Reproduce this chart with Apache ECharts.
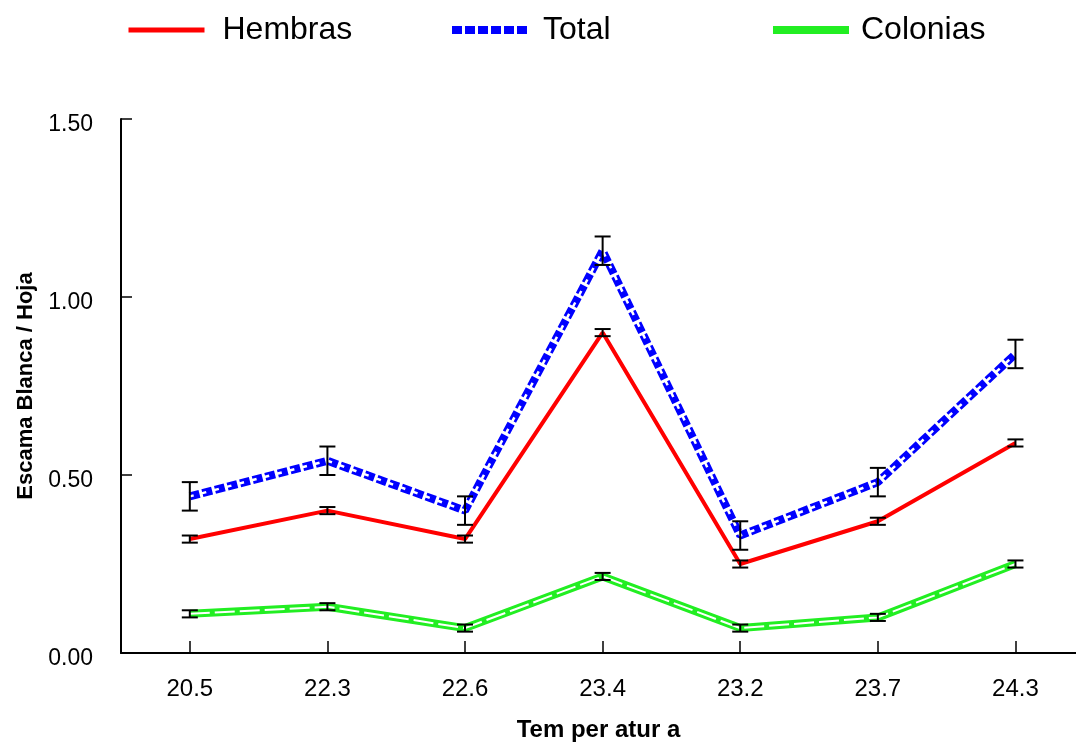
<!DOCTYPE html>
<html>
<head>
<meta charset="utf-8">
<script src="https://cdn.jsdelivr.net/npm/echarts@6/dist/echarts.min.js"></script>
<style>
html,body{margin:0;padding:0;background:#fff;}
#main{width:1076px;height:743px;}
</style>
</head>
<body>
<div id="main"></div>
<script>
const categories = ['20.5','22.3','22.6','23.4','23.2','23.7','24.3'];
const hembras = [0.32,0.40,0.32,0.90,0.25,0.37,0.59];
const hembrasErr = [0.01,0.01,0.01,0.01,0.01,0.01,0.01];
const total = [0.44,0.54,0.40,1.13,0.33,0.48,0.84];
const totalErr = [0.04,0.04,0.04,0.04,0.04,0.04,0.04];
const colonias = [0.11,0.13,0.07,0.215,0.07,0.10,0.25];
const coloniasErr = [0.01,0.01,0.01,0.01,0.01,0.01,0.01];
const yTicks = [0,0.5,1.0,1.5];

const FONT = 'Liberation Sans, Arial, sans-serif';
const idx = categories.map((c,i)=>i);
const pts = arr => arr.map((v,i)=>[i,v]);
const errPts = (arr,err) => arr.map((v,i)=>[i,v,err[i]]);

function errRender(params, api){
  const x = api.value(0), y = api.value(1), e = api.value(2);
  const pHi = api.coord([x, y+e]);
  const pLo = api.coord([x, y-e]);
  const hw = 8;
  const st = {stroke:'#000', lineWidth:2};
  return {type:'group', children:[
    {type:'line', shape:{x1:pHi[0],y1:pHi[1],x2:pLo[0],y2:pLo[1]}, style:st},
    {type:'line', shape:{x1:pHi[0]-hw,y1:pHi[1],x2:pHi[0]+hw,y2:pHi[1]}, style:st},
    {type:'line', shape:{x1:pLo[0]-hw,y1:pLo[1],x2:pLo[0]+hw,y2:pLo[1]}, style:st}
  ]};
}

function legendFor(name, left, pad, lineStyle){
  return {
    top: 9, left: left, itemWidth: 76, itemHeight: 10,
    itemStyle: {opacity: 0},
    data: [{name: name, lineStyle: lineStyle, itemStyle:{opacity:0}}],
    textStyle: {fontFamily: FONT, fontSize: 32, color:'#000', padding:[0,0,0,pad]}
  };
}

const chart = echarts.init(document.getElementById('main'), null, {renderer:'canvas'});
chart.setOption({
  backgroundColor:'#fff',
  animation:false,
  legend:[
    legendFor('Hembras', 121, 13, {color:'#ff0000', width:5}),
    legendFor('Total', 443, 10, {color:'#0000ff', width:8, type:[10,3]}),
    legendFor('Colonias', 764, 7, {color:'#22ee22', width:8})
  ],
  grid:{left:121, right:0, top:119, bottom:90, outerBoundsMode:'none', containLabel:false},
  xAxis:{
    type:'value', min:-0.5, max:6.44,
    name:'Tem per atur a', nameLocation:'middle', nameGap:65,
    nameTextStyle:{fontFamily:FONT, fontSize:24, fontWeight:'bold', color:'#000'},
    axisLine:{show:true, onZero:false, lineStyle:{color:'#000', width:2}},
    axisTick:{show:true, inside:true, length:12, lineStyle:{color:'#000', width:1.5}, customValues: idx},
    axisLabel:{customValues: idx, formatter: v => categories[Math.round(v)], fontFamily:FONT, fontSize:24, color:'#000', margin:24},
    splitLine:{show:false}
  },
  yAxis:{
    type:'value', min:0, max:1.5, interval:0.5,
    name:'Escama Blanca / Hoja', nameLocation:'middle', nameGap:74,
    nameTextStyle:{fontFamily:FONT, fontSize:22, fontWeight:'bold', color:'#000'},
    axisLine:{show:true, onZero:false, lineStyle:{color:'#000', width:2}},
    axisTick:{show:true, inside:true, length:11, lineStyle:{color:'#000', width:1.5}, customValues: yTicks},
    axisLabel:{customValues: yTicks, formatter: v => '{v|' + v.toFixed(2) + '}', margin:28,
      rich:{v:{fontFamily:FONT, fontSize:23, color:'#000', padding:[12,0,0,0]}}},
    splitLine:{show:false}
  },
  series:[
    {name:'Hembras', type:'line', data:pts(hembras), symbol:'none', z:3,
     lineStyle:{color:'#ff0000', width:4}, itemStyle:{color:'#ff0000'}},
    {name:'Total', type:'line', data:pts(total), symbol:'none', z:3,
     lineStyle:{color:'#0000ff', width:8, type:[10,3]}, itemStyle:{color:'#0000ff'}},
    {name:'TotalCore', type:'line', data:pts(total), symbol:'none', z:4, silent:true,
     lineStyle:{color:'#ffffff', width:2.5, type:[6,7], dashOffset:2}},
    {name:'Colonias', type:'line', data:pts(colonias), symbol:'none', z:3,
     lineStyle:{color:'#22ee22', width:8}, itemStyle:{color:'#22ee22'}},
    {name:'ColoniasCore', type:'line', data:pts(colonias), symbol:'none', z:4, silent:true,
     lineStyle:{color:'#ffffff', width:2, type:[20,5]}},
    {type:'custom', renderItem:errRender, data:errPts(hembras,hembrasErr), z:10, silent:true},
    {type:'custom', renderItem:errRender, data:errPts(total,totalErr), z:10, silent:true},
    {type:'custom', renderItem:errRender, data:errPts(colonias,coloniasErr), z:10, silent:true}
  ]
});
</script>
</body>
</html>
